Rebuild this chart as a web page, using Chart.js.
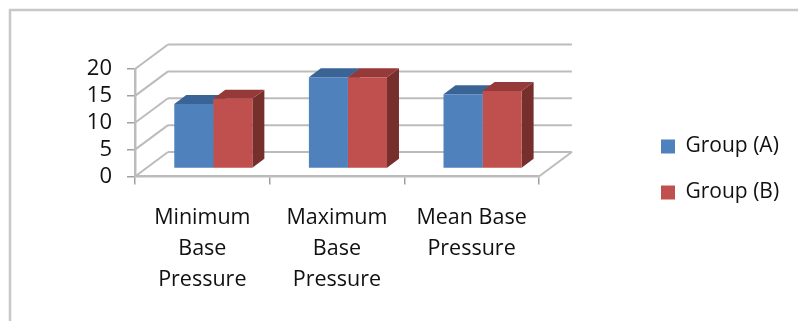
<!DOCTYPE html>
<html>
<head>
<meta charset="utf-8">
<title>Base Pressure</title>
<script src="https://cdn.jsdelivr.net/npm/chart.js@4"></script>
<style>
  html, body { margin: 0; padding: 0; background: #fff; }
  #wrap { width: 798px; height: 321px; }
  canvas { display: block; filter: blur(0.4px); }
</style>
</head>
<body>
<div id="wrap"><canvas id="chart" width="798" height="321"></canvas></div>
<script>
// values
const categories = [
    ["Minimum", "Base", "Pressure"],
    ["Maximum", "Base", "Pressure"],
    ["Mean Base", "Pressure"]
];
const seriesNames = ["Group (A)", "Group (B)"];
const groupA = [12, 17, 13.8];
const groupB = [13, 17, 14.4];
const yMax = 20;
const yStep = 5;

const frontColors = ["#4f81bd", "#c0504d"];
const topColors = ["#3a6496", "#953a38"];
const sideColors = ["#2f4f78", "#772f2d"];

const gridColor = "#bcbcbc";
const tickColor = "#a0a0a0";
const textColor = "#111";
const fontFamily = "'Open Sans', sans-serif";

// fake 3D: how far the back wall and the bars are pushed from the axis plane
const wall = { dx: 33, dy: -24.5 };
const barShift = { dx: 11, dy: -8 };
const barDepth = { dx: 12, dy: -9 };

function line(ctx, x1, y1, x2, y2) {
    ctx.beginPath();
    ctx.moveTo(x1, y1);
    ctx.lineTo(x2, y2);
    ctx.stroke();
}

function face(ctx, pts, color) {
    ctx.fillStyle = color;
    ctx.beginPath();
    pts.forEach((p, i) => i ? ctx.lineTo(p[0], p[1]) : ctx.moveTo(p[0], p[1]));
    ctx.closePath();
    ctx.fill();
}

const box3d = {
    id: "box3d",
    afterLayout(chart) {
        // legend sits well right of the plot, so move it after layout
        const lg = chart.legend;
        const w = lg.right - lg.left, h = lg.bottom - lg.top;
        const pad = lg.options.labels.padding;
        lg.left = 661 - pad;
        lg.right = lg.left + w;
        lg.top = 136 - pad;
        lg.bottom = lg.top + h;
    },
    beforeDraw(chart) {
        const ctx = chart.ctx;
        ctx.save();
        // outer frame of the pasted figure
        ctx.strokeStyle = "#c8c8c8";
        ctx.lineWidth = 2.5;
        line(ctx, 9, 10, 798, 10);
        line(ctx, 10, 9, 10, 321);
        ctx.restore();
    },
    beforeDatasetsDraw(chart) {
        const ctx = chart.ctx;
        const { left, right } = chart.chartArea;
        const y = chart.scales.y;
        ctx.save();
        ctx.strokeStyle = gridColor;
        ctx.lineWidth = 2;
        y.ticks.forEach(t => {
            const py = y.getPixelForValue(t.value);
            line(ctx, left, py, left + wall.dx, py + wall.dy);
            line(ctx, left + wall.dx, py + wall.dy, right + wall.dx, py + wall.dy);
        });
        const y0 = y.getPixelForValue(0);
        line(ctx, right, y0, right + wall.dx, y0 + wall.dy);

        // top and side faces, group A first so B overlaps it
        chart.getSortedVisibleDatasetMetas().forEach((meta, d) => {
            meta.data.forEach(bar => {
                const x1 = bar.x - bar.width / 2 + barShift.dx;
                const x2 = bar.x + bar.width / 2 + barShift.dx;
                const yt = bar.y + barShift.dy;
                const yb = bar.base + barShift.dy;
                const dx = barDepth.dx, dy = barDepth.dy;
                face(ctx, [[x2, yt], [x2 + dx, yt + dy], [x2 + dx, yb + dy], [x2, yb]], sideColors[d]);
                face(ctx, [[x1, yt], [x1 + dx, yt + dy], [x2 + dx, yt + dy], [x2, yt]], topColors[d]);
            });
        });
        ctx.restore();
    },
    beforeDatasetDraw(chart) {
        chart.ctx.save();
        chart.ctx.translate(barShift.dx, barShift.dy);
    },
    afterDatasetDraw(chart) {
        chart.ctx.restore();
    }
};

new Chart(document.getElementById("chart"), {
    type: "bar",
    data: {
        labels: categories,
        datasets: [
            { label: seriesNames[0], data: groupA, backgroundColor: frontColors[0] },
            { label: seriesNames[1], data: groupB, backgroundColor: frontColors[1] }
        ]
    },
    options: {
        responsive: false,
        animation: false,
        layout: { padding: { left: 0, right: 106, top: 69, bottom: 0 } },
        datasets: { bar: { categoryPercentage: 0.58, barPercentage: 1 } },
        plugins: {
            legend: {
                position: "right",
                align: "start",
                labels: {
                    boxWidth: 14,
                    boxHeight: 14,
                    padding: 25,
                    color: textColor,
                    font: { family: fontFamily, size: 21 }
                }
            },
            tooltip: { enabled: false }
        },
        scales: {
            x: {
                afterFit(scale) { scale.height = 144.5; },
                border: { color: gridColor, width: 2.5 },
                grid: { drawOnChartArea: false, color: tickColor, lineWidth: 1.5, tickLength: 8 },
                ticks: {
                    color: textColor,
                    autoSkip: false,
                    maxRotation: 0,
                    padding: 18,
                    font: { family: fontFamily, size: 21.5, lineHeight: "31px" }
                }
            },
            y: {
                min: 0,
                max: yMax,
                afterFit(scale) { scale.width = 135; },
                border: { color: gridColor, width: 2.5 },
                grid: { drawOnChartArea: false, color: tickColor, lineWidth: 1.5, tickLength: 8 },
                ticks: {
                    stepSize: yStep,
                    autoSkip: false,
                    color: textColor,
                    padding: 15,
                    font: { family: fontFamily, size: 22 }
                }
            }
        }
    },
    plugins: [box3d]
});
</script>
</body>
</html>
